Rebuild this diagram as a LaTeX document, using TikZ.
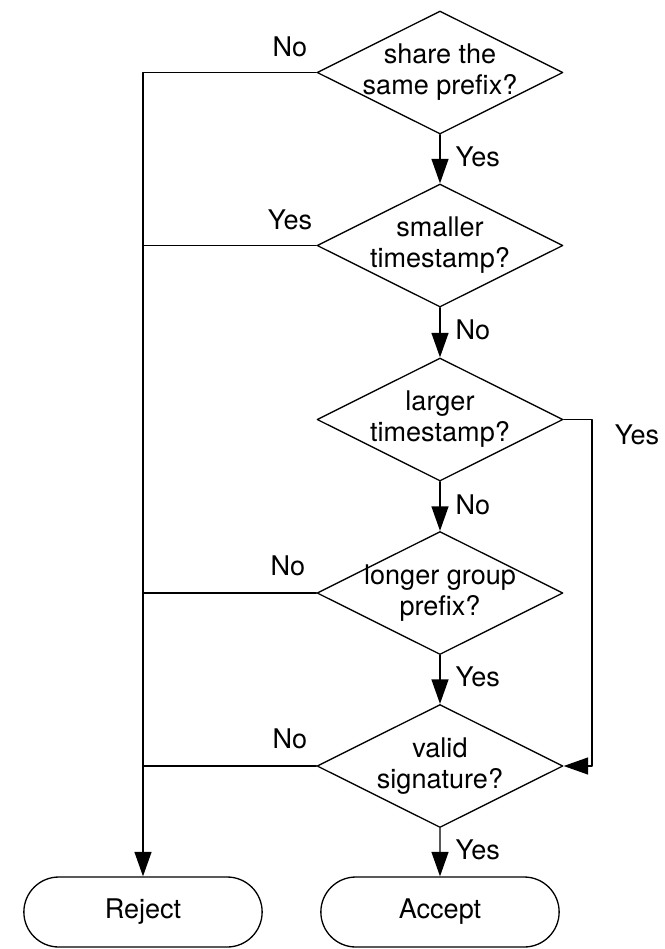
\documentclass[tikz,border=0pt]{standalone}
\usepackage{fontspec}
\setmainfont{TeX Gyre Heros}
\usetikzlibrary{shapes.geometric,shapes.misc,arrows.meta}
\begin{document}
\begin{tikzpicture}[line cap=round,line join=round,line width=0.75pt,
  >={Triangle[length=4.9mm,width=3.4mm]},x=1.0cm,y=1.0cm,
  font=\fontsize{15.4}{17.6}\selectfont,
  decision/.style={diamond, draw, shape aspect=2, inner sep=0pt,
    minimum width=4.92cm, minimum height=2.46cm},
  qtext/.style={align=center, inner sep=0pt},
  terminal/.style={rounded rectangle, draw, minimum width=5cm, minimum height=1.4cm},
  answer/.style={inner sep=0pt}]
\useasboundingbox (0,0) rectangle (13.3,-18.98);
% questions
\node [decision, label={[qtext]center:share the\\same prefix?}] (prefix) at (8.8,-1.45) {};
\node [decision, label={[qtext]center:smaller\\timestamp?}] (older) at (8.8,-4.91) {};
\node [decision, label={[qtext]center:larger\\timestamp?}] (newer) at (8.8,-8.39) {};
\node [decision, label={[qtext]center:longer group\\prefix?}] (group) at (8.8,-11.86) {};
\node [decision, label={[qtext]center:valid\\signature?}] (sig) at (8.8,-15.32) {};
% outcomes
\node [terminal] (reject) at (2.86,-18.24) {Reject};
\node [terminal] (accept) at (8.8,-18.24) {Accept};
\coordinate (bend) at (11.84,-8.39);
% connectors
\draw [->] (prefix) -- (older);
\draw [->] (older) -- (newer);
\draw [->] (newer) -- (group);
\draw [->] (group) -- (sig);
\draw [->] (sig) -- (accept);
\draw [->] (prefix.west) -| (reject.north);
\draw (older.west) -- (older.west -| reject.north);
\draw (group.west) -- (group.west -| reject.north);
\draw (sig.west) -- (sig.west -| reject.north);
\draw [->] (newer.east) -- (bend) |- (sig.east);
% answers
\node [answer] (no1) at (5.8,-0.94) {No};
\node [answer] (yes2) at (5.8,-4.4) {Yes};
\node [answer] (no4) at (5.76,-11.32) {No};
\node [answer] (no5) at (5.8,-14.78) {No};
\node [answer] (yes3) at (12.74,-8.7) {Yes};
\node [answer, anchor=west] (yes1) at (9.1,-3.14) {Yes};
\node [answer, anchor=west] (no2) at (9.1,-6.6) {No};
\node [answer, anchor=west] (no3) at (9.1,-10.1) {No};
\node [answer, anchor=west] (yes4) at (9.1,-13.54) {Yes};
\node [answer, anchor=west] (yes5) at (9.1,-17.0) {Yes};
\end{tikzpicture}
\end{document}
